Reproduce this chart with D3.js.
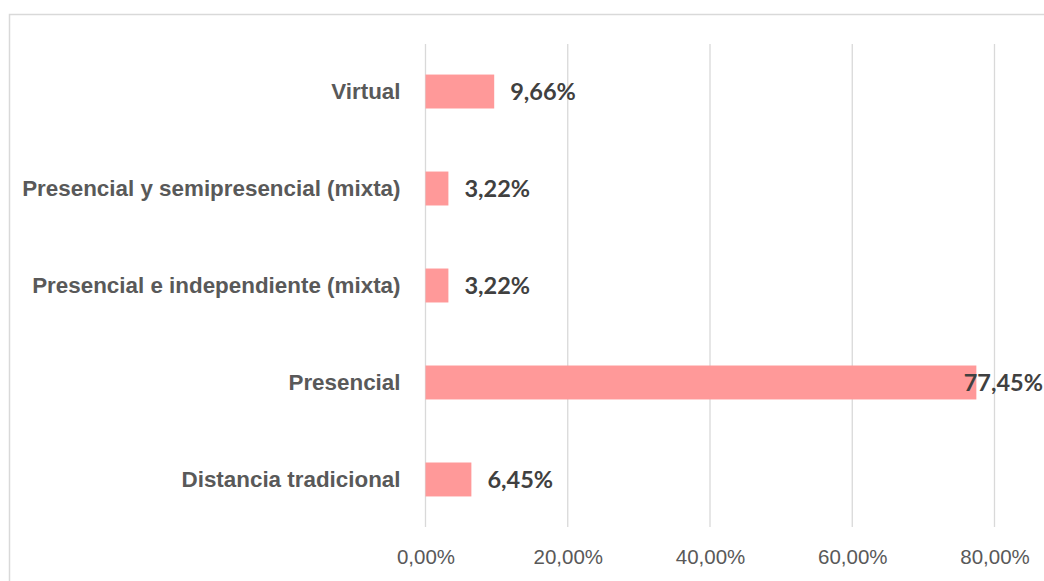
<!DOCTYPE html>
<html>
<head>
<meta charset="utf-8">
<script src="https://cdn.jsdelivr.net/npm/d3@7"></script>
<style>
  body { margin: 0; background: #fff; }
  svg { font-family: Lato, "Open Sans", sans-serif; display: block; }
</style>
</head>
<body>
<div id="chart"></div>
<script>
// data, top to bottom as drawn
var categories = ["Virtual", "Presencial y semipresencial (mixta)", "Presencial e independiente (mixta)", "Presencial", "Distancia tradicional"];
var values = [9.66, 3.22, 3.22, 77.45, 6.45];
var ticks = [0, 20, 40, 60, 80];

var W = 1044, H = 581;

var svg = d3.select("#chart").append("svg")
  .attr("width", W)
  .attr("height", H);

// chart frame, runs off right and bottom
svg.append("rect")
  .attr("x", 9.5).attr("y", 14.5)
  .attr("width", W + 20).attr("height", H + 20)
  .attr("fill", "none")
  .attr("stroke", "#d9d9d9")
  .attr("stroke-width", 1.5);

var x = d3.scaleLinear().domain([0, 80]).range([425.5, 994.5]);
var y = d3.scaleBand().domain(categories).range([44, 527])
  .paddingInner(0.65).paddingOuter(0.315);

var fmt = function (v) { return v.toFixed(2).replace(".", ",") + "%"; };

// gridlines
svg.append("g")
  .selectAll("line")
  .data(ticks)
  .enter().append("line")
  .attr("x1", function (d) { return x(d); })
  .attr("x2", function (d) { return x(d); })
  .attr("y1", 44).attr("y2", 527)
  .attr("stroke", "#d9d9d9")
  .attr("stroke-width", 1.3);

// x axis labels
var xAxis = d3.axisBottom(x).tickValues(ticks).tickSize(0).tickPadding(0).tickFormat(fmt);
var gx = svg.append("g")
  .attr("transform", "translate(0,549)")
  .call(xAxis);
gx.select(".domain").remove();
gx.selectAll("text")
  .attr("dy", "0.71em")
  .attr("fill", "#595959")
  .style("font-size", "20.5px");

// bars
svg.append("g")
  .selectAll("rect")
  .data(values)
  .enter().append("rect")
  .attr("x", x(0))
  .attr("y", function (d, i) { return y(categories[i]); })
  .attr("width", function (d) { return x(d) - x(0); })
  .attr("height", y.bandwidth())
  .attr("fill", "#ff9999");

// category labels
var yAxis = d3.axisLeft(y).tickSize(0).tickPadding(25);
var gy = svg.append("g")
  .attr("transform", "translate(" + x(0) + ",0)")
  .call(yAxis);
gy.select(".domain").remove();
gy.selectAll("text")
  .attr("fill", "#595959")
  .style("font-size", "22.4px")
  .style("font-weight", "bold");

// value labels
svg.append("g")
  .selectAll("text")
  .data(values)
  .enter().append("text")
  .text(function (d) { return fmt(d); })
  .attr("y", function (d, i) { return y(categories[i]) + y.bandwidth() / 2; })
  .attr("dy", "0.36em")
  .attr("fill", "#404040")
  .style("font-size", "23.5px")
  .style("font-weight", "bold")
  .attr("x", function (d) {
    var w = this.getComputedTextLength();
    return Math.min(x(d) + 16, W - 1 - w);
  });
</script>
</body>
</html>
